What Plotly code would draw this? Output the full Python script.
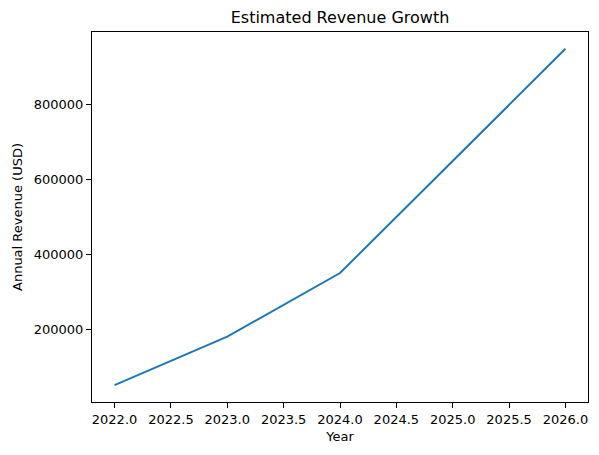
import plotly.graph_objects as go

years = [2022, 2023, 2024, 2025, 2026]
revenue = [50000, 180000, 350000, 650000, 950000]

fig = go.Figure()
fig.add_trace(go.Scatter(x=years, y=revenue, mode="lines",
                         line=dict(color="#1f77b4", width=2)))

axis_style = dict(showline=True, mirror=True, linecolor="black", linewidth=1,
                  ticks="outside", ticklen=5, tickcolor="black",
                  showgrid=False, zeroline=False,
                  tickfont=dict(size=13, color="black"))

fig.update_layout(
    width=599, height=455,
    margin=dict(l=92, r=11, t=32, b=53),
    paper_bgcolor="white", plot_bgcolor="white",
    font=dict(family="DejaVu Sans", size=13, color="black"),
    showlegend=False,
    title=dict(text="Estimated Revenue Growth", x=0.5, xref="paper",
               y=1 - 17 / 455, yref="container", yanchor="middle",
               font=dict(size=16, color="black")),
    xaxis=dict(range=[2021.8, 2026.2], tick0=2022, dtick=0.5, tickformat=".1f",
               title=dict(text="Year", standoff=6, font=dict(size=13)), **axis_style),
    yaxis=dict(range=[5000, 995000], tick0=0, dtick=200000, tickformat="d",
               title=dict(text="Annual Revenue (USD)", standoff=8, font=dict(size=13)),
               **axis_style),
)

# drop the browser's default body margin so the figure sits at the corner
fig.write_html("out.html", config={"displayModeBar": False},
               post_script="document.body.style.margin='0';document.body.style.overflow='hidden';")
